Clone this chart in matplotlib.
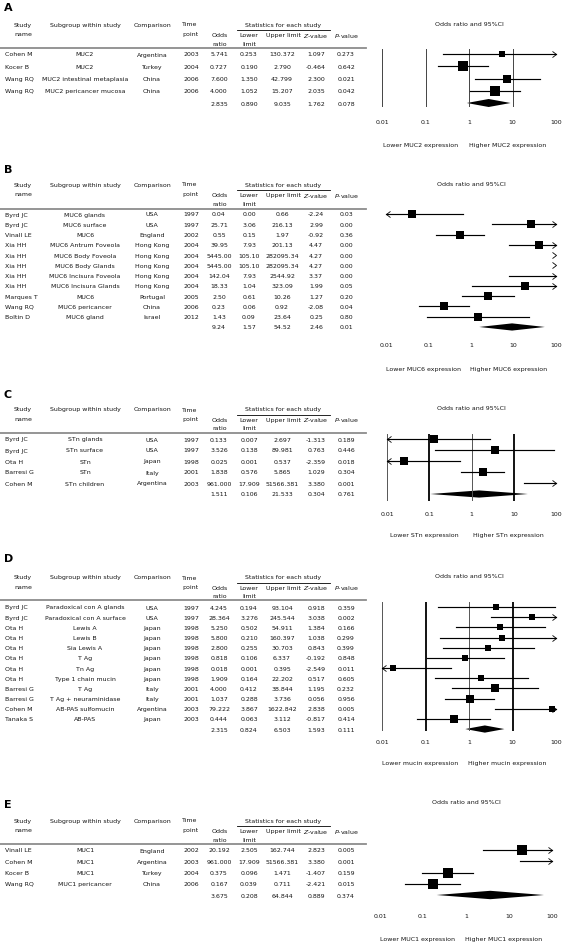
import matplotlib.pyplot as plt
import numpy as np
from matplotlib.ticker import NullLocator
from matplotlib.transforms import blended_transform_factory

plt.rcParams['font.family'] = ['DejaVu Sans']
plt.rcParams['mathtext.fontset'] = 'dejavusans'

W, H = 567, 945
FS = 4.5
INK = "#151515"

# ---- A: MUC2
studies_a = ["Cohen M", "Kocer B", "Wang RQ", "Wang RQ"]
subgroups_a = ["MUC2", "MUC2", "MUC2 intestinal metaplasia", "MUC2 pericancer mucosa"]
countries_a = ["Argentina", "Turkey", "China", "China"]
years_a = [2003, 2004, 2006, 2006]
or_a = [5.741, 0.727, 7.600, 4.000]
lower_a = [0.253, 0.190, 1.350, 1.052]
upper_a = [130.372, 2.790, 42.799, 15.207]
z_a = [1.097, -0.464, 2.300, 2.035]
p_a = [0.273, 0.642, 0.021, 0.042]
weight_a = [10, 32, 25, 33]
summary_a = [2.835, 0.890, 9.035, 1.762, 0.078]

# ---- B: MUC6
studies_b = ["Byrd JC", "Byrd JC", "Vinall LE", "Xia HH", "Xia HH", "Xia HH", "Xia HH",
             "Xia HH", "Marques T", "Wang RQ", "Boltin D"]
subgroups_b = ["MUC6 glands", "MUC6 surface", "MUC6", "MUC6 Antrum Foveola", "MUC6 Body Foveola",
               "MUC6 Body Glands", "MUC6 Incisura Foveola", "MUC6 Incisura Glands", "MUC6",
               "MUC6 pericancer", "MUC6 gland"]
countries_b = ["USA", "USA", "England", "Hong Kong", "Hong Kong", "Hong Kong", "Hong Kong",
               "Hong Kong", "Portugal", "China", "Israel"]
years_b = [1997, 1997, 2002, 2004, 2004, 2004, 2004, 2004, 2005, 2006, 2012]
or_b = [0.04, 25.71, 0.55, 39.95, 5445.00, 5445.00, 142.04, 18.33, 2.50, 0.23, 1.43]
lower_b = [0.00, 3.06, 0.15, 7.93, 105.10, 105.10, 7.93, 1.04, 0.61, 0.06, 0.09]
upper_b = [0.66, 216.13, 1.97, 201.13, 282095.34, 282095.34, 2544.92, 323.09, 10.26, 0.92, 23.64]
z_b = [-2.24, 2.99, -0.92, 4.47, 4.27, 4.27, 3.37, 1.99, 1.27, -2.08, 0.25]
p_b = [0.03, 0.00, 0.36, 0.00, 0.00, 0.00, 0.00, 0.05, 0.20, 0.04, 0.80]
weight_b = [9, 10, 12, 10, 7, 7, 8, 9, 10, 10, 9]
summary_b = [9.24, 1.57, 54.52, 2.46, 0.01]

# ---- C: STn
studies_c = ["Byrd JC", "Byrd JC", "Ota H", "Barresi G", "Cohen M"]
subgroups_c = ["STn glands", "STn surface", "STn", "STn", "STn children"]
countries_c = ["USA", "USA", "Japan", "Italy", "Argentina"]
years_c = [1997, 1997, 1998, 2001, 2003]
or_c = [0.133, 3.526, 0.025, 1.838, 961.000]
lower_c = [0.007, 0.138, 0.001, 0.576, 17.909]
upper_c = [2.697, 89.981, 0.537, 5.865, 51566.381]
z_c = [-1.313, 0.763, -2.359, 1.029, 3.380]
p_c = [0.189, 0.446, 0.018, 0.304, 0.001]
weight_c = [19, 22, 21, 28, 10]
summary_c = [1.511, 0.106, 21.533, 0.304, 0.761]

# ---- D: other mucins
studies_d = ["Byrd JC", "Byrd JC", "Ota H", "Ota H", "Ota H", "Ota H", "Ota H", "Ota H",
             "Barresi G", "Barresi G", "Cohen M", "Tanaka S"]
subgroups_d = ["Paradoxical con A glands", "Paradoxical con A surface", "Lewis A", "Lewis B",
               "Sia Lewis A", "T Ag", "Tn Ag", "Type 1 chain mucin", "T Ag",
               "T Ag + neuraminidase", "AB-PAS sulfomucin", "AB-PAS"]
countries_d = ["USA", "USA", "Japan", "Japan", "Japan", "Japan", "Japan", "Japan", "Italy",
               "Italy", "Argentina", "Japan"]
years_d = [1997, 1997, 1998, 1998, 1998, 1998, 1998, 1998, 2001, 2001, 2003, 2003]
or_d = [4.245, 28.364, 5.250, 5.800, 2.800, 0.818, 0.018, 1.909, 4.000, 1.037, 79.222, 0.444]
lower_d = [0.194, 3.276, 0.502, 0.210, 0.255, 0.106, 0.001, 0.164, 0.412, 0.288, 3.867, 0.063]
upper_d = [93.104, 245.544, 54.911, 160.397, 30.703, 6.337, 0.395, 22.202, 38.844, 3.736,
           1622.842, 3.112]
z_d = [0.918, 3.038, 1.384, 1.038, 0.843, -0.192, -2.549, 0.517, 1.195, 0.056, 2.838, -0.817]
p_d = [0.359, 0.002, 0.166, 0.299, 0.399, 0.848, 0.011, 0.605, 0.232, 0.956, 0.005, 0.414]
weight_d = [7, 9, 9, 7, 9, 9, 6, 9, 11, 13, 6, 11]
summary_d = [2.315, 0.824, 6.503, 1.593, 0.111]

# ---- E: MUC1
studies_e = ["Vinall LE", "Cohen M", "Kocer B", "Wang RQ"]
subgroups_e = ["MUC1", "MUC1", "MUC1", "MUC1 pericancer"]
countries_e = ["England", "Argentina", "Turkey", "China"]
years_e = [2002, 2003, 2004, 2006]
or_e = [20.192, 961.000, 0.375, 0.167]
lower_e = [2.505, 17.909, 0.096, 0.039]
upper_e = [162.744, 51566.381, 1.471, 0.711]
z_e = [2.823, 3.380, -1.407, -2.421]
p_e = [0.005, 0.001, 0.159, 0.015]
weight_e = [24, 12, 28, 28]
summary_e = [3.675, 0.208, 64.844, 0.889, 0.374]

ticks = [0.01, 0.1, 1, 10, 100]
tick_labels = ["0.01", "0.1", "1", "10", "100"]

panels = [
    dict(letter="A", name="MUC2", studies=studies_a, subgroups=subgroups_a, countries=countries_a,
         years=years_a, ors=or_a, lower=lower_a, upper=upper_a, z=z_a, p=p_a, w=weight_a,
         summary=summary_a, dec=3, letter_y=8, h1=25, rule_y=49, first_y=55, step=12.25,
         top=50, bottom=108, title_y=24, tick_y=123, label_y=145, x0=382, x1=556,
         vlines="thin", box=9.6, dia=4),
    dict(letter="B", name="MUC6", studies=studies_b, subgroups=subgroups_b, countries=countries_b,
         years=years_b, ors=or_b, lower=lower_b, upper=upper_b, z=z_b, p=p_b, w=weight_b,
         summary=summary_b, dec=2, letter_y=170, h1=185, rule_y=210, first_y=215, step=10.27,
         top=211, bottom=335, title_y=184, tick_y=347, label_y=369, x0=386, x1=556,
         vlines="none", box=8.5, dia=3.6),
    dict(letter="C", name="STn", studies=studies_c, subgroups=subgroups_c, countries=countries_c,
         years=years_c, ors=or_c, lower=lower_c, upper=upper_c, z=z_c, p=p_c, w=weight_c,
         summary=summary_c, dec=3, letter_y=395, h1=410, rule_y=434, first_y=440, step=11,
         top=435, bottom=502, title_y=408, tick_y=515, label_y=535, x0=387, x1=556,
         vlines="mixed", box=8.5, dia=3.6),
    dict(letter="D", name="mucin", studies=studies_d, subgroups=subgroups_d, countries=countries_d,
         years=years_d, ors=or_d, lower=lower_d, upper=upper_d, z=z_d, p=p_d, w=weight_d,
         summary=summary_d, dec=3, letter_y=559, h1=578, rule_y=601, first_y=608, step=10.17,
         top=603, bottom=732, title_y=577, tick_y=743, label_y=763, x0=382, x1=556,
         vlines="mixed", box=7.8, dia=3.6),
    dict(letter="E", name="MUC1", studies=studies_e, subgroups=subgroups_e, countries=countries_e,
         years=years_e, ors=or_e, lower=lower_e, upper=upper_e, z=z_e, p=p_e, w=weight_e,
         summary=summary_e, dec=3, letter_y=805, h1=821, rule_y=845, first_y=851, step=11.25,
         top=846, bottom=903, title_y=802, tick_y=918, label_y=939, x0=380, x1=552,
         vlines="none", box=9.8, dia=4.2),
]

RIGHT = [(-1.3, 1), (0, 0), (-1.3, -1)]
LEFT = [(1.3, 1), (0, 0), (1.3, -1)]
PX = 0.72  # points per pixel at dpi 100


def txt(ax, x, y, s, ha="center", **kw):
    ax.text(x, y, s, ha=ha, va="center", fontsize=FS, color=INK, **kw)


def draw_panel(fig, tab, p):
    n = len(p["studies"])
    rows_y = p["first_y"] + p["step"] * np.arange(n + 1)
    fmt = lambda v: f"{v:.{p['dec']}f}"

    tab.text(4, p["letter_y"], p["letter"], fontsize=8, fontweight="bold", va="center")
    h1 = p["h1"]
    h2, h3 = h1 + 9.5, h1 + 19
    for s, x, y in [("Study", 23, h1), ("name", 23, h2), ("Subgroup within study", 85, h1),
                    ("Comparison", 152, h1), ("Time", 190, h1), ("point", 190, h2),
                    ("Statistics for each study", 283, h1), ("Odds", 220, h2 + 1),
                    ("ratio", 220, h3), ("Lower", 249, h2 + 1), ("limit", 249, h3),
                    ("Upper limit", 283, h2 + 1), ("$Z$-value", 316, h2 + 1),
                    ("$P$-value", 346, h2 + 1)]:
        txt(tab, x, y, s)
    tab.plot([237, 330], [h1 + 5.5] * 2, color="black", lw=0.6)
    tab.plot([0, 366], [p["rule_y"]] * 2, color="#8c8c8c", lw=1.3)

    for i in range(n):
        y = rows_y[i]
        txt(tab, 5, y, p["studies"][i], ha="left")
        txt(tab, 85, y, p["subgroups"][i])
        txt(tab, 152, y, p["countries"][i])
        txt(tab, 191, y, str(p["years"][i]))
        txt(tab, 219, y, fmt(p["ors"][i]))
        txt(tab, 249, y, fmt(p["lower"][i]))
        txt(tab, 282, y, fmt(p["upper"][i]))
        txt(tab, 316, y, fmt(p["z"][i]))
        txt(tab, 346, y, fmt(p["p"][i]))
    for v, x in zip(p["summary"], [219, 249, 282, 316, 346]):
        txt(tab, x, rows_y[n], fmt(v))

    # forest plot
    top, bottom, step = p["top"], p["bottom"], p["step"]
    ax = fig.add_axes([p["x0"] / W, 1 - bottom / H, (p["x1"] - p["x0"]) / W, (bottom - top) / H])
    ax.set_facecolor("none")
    ax.set_xscale("log")
    ax.set_xlim(0.01, 100)
    ax.set_ylim((bottom - p["first_y"]) / step, (top - p["first_y"]) / step)
    for sp in ax.spines.values():
        sp.set_visible(False)
    ax.set_yticks([])
    ax.set_xticks(ticks)
    ax.set_xticklabels(tick_labels, fontsize=FS, color=INK)
    ax.xaxis.set_minor_locator(NullLocator())
    ax.tick_params(axis="x", length=0, pad=(p["tick_y"] - 3.5 - bottom) * PX)

    if p["vlines"] == "thin":
        for t in ticks:
            ax.axvline(t, color="#444444", lw=0.7)
    elif p["vlines"] == "mixed":
        for t in ticks:
            heavy = t in (0.1, 10)
            ax.axvline(t, color="black" if heavy else "#555555", lw=1.3 if heavy else 0.7)

    wmax = max(p["w"])
    for i in range(n):
        lo, hi, o = p["lower"][i], p["upper"][i], p["ors"][i]
        a, b = max(lo, 0.01), min(hi, 100)
        if a < b:
            ax.plot([a, b], [i, i], color="black", lw=0.85, clip_on=False)
        if lo < 0.01:
            ax.plot([0.01], [i], marker=LEFT, ms=8 * PX, mfc="none", mec="black", mew=0.6,
                    clip_on=False)
        if hi > 100:
            ax.plot([100], [i], marker=RIGHT, ms=8 * PX, mfc="none", mec="black", mew=0.6,
                    clip_on=False)
        if 0.01 <= o <= 100:
            side = p["box"] * np.sqrt(p["w"][i] / wmax)
            ax.plot([o], [i], marker="s", ms=side * PX, color="black", mew=0, clip_on=False)

    so, sl, su = p["summary"][:3]
    hh = p["dia"] / step
    ax.fill([sl, so, su, so], [n, n - hh, n, n + hh], color="black", lw=0, clip_on=False)

    tr = blended_transform_factory(ax.transData, tab.transData)
    ax.text(1, p["title_y"], "Odds ratio and 95%CI", transform=tr, ha="center", va="center",
            fontsize=FS, color=INK)
    ax.text(10 ** -1.12, p["label_y"], f"Lower {p['name']} expression", transform=tr,
            ha="center", va="center", fontsize=FS, color=INK)
    ax.text(10 ** 0.88, p["label_y"], f"Higher {p['name']} expression", transform=tr,
            ha="center", va="center", fontsize=FS, color=INK)


fig = plt.figure(figsize=(W / 100, H / 100), dpi=100)
tab = fig.add_axes([0, 0, 1, 1])
tab.set_xlim(0, W)
tab.set_ylim(H, 0)
tab.axis("off")

for panel in panels:
    draw_panel(fig, tab, panel)

fig.savefig("out.png", dpi=100)
